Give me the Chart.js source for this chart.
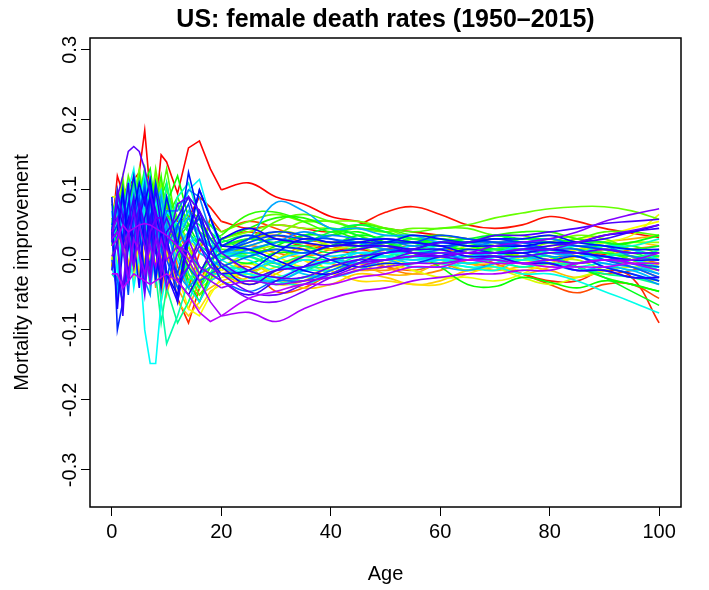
<!DOCTYPE html>
<html>
<head>
<meta charset="utf-8">
<script src="https://cdn.jsdelivr.net/npm/chart.js@4.4.1/dist/chart.umd.min.js"></script>
<style>
  html, body { margin: 0; padding: 0; background: #fff; }
  #wrap { width: 709px; height: 590px; }
</style>
</head>
<body>
<div id="wrap"><canvas id="ratesChart" width="709" height="590"></canvas></div>
<script>
// --- DATA ---
// ages where each curve is read off the picture
const ages = [0, 1, 2, 3, 4, 5, 6, 7, 8, 9, 10, 12, 14, 16, 18, 20,
              25, 30, 35, 40, 45, 50, 55, 60, 65, 70, 75, 80, 85, 90, 95, 100];
const youngCount = 16; // ages 0-20 are jagged, 25-100 smooth
const yTicks = [-0.3, -0.2, -0.1, 0.0, 0.1, 0.2, 0.3];
const xTicks = [0, 20, 40, 60, 80, 100];

// improvement rates in units of 0.001, one row per year (ages 0-20 | 25-100)
const rates1950s = [
  [40,120,95,105,115,125,185,95,70,150,140,95,160,170,130,100, 110,90,80,62,55,45,40,35,30,25,20,15,10,8,5,0],
  [50,95,60,85,45,70,100,55,85,40,75,55,60,90,75,55, 45,50,45,40,50,68,76,65,50,45,50,62,55,45,38,32],
  [-10,70,40,90,60,30,65,-10,45,-30,15,-55,-90,-40,15,30, 40,30,20,15,15,10,5,0,-5,-10,-20,-30,-30,-15,-25,-90],
  [30,60,100,50,80,110,40,90,60,100,50,40,10,-20,0,20, 30,35,25,15,10,15,20,15,10,10,5,0,-10,-20,-15,-5],
  [60,40,80,20,60,90,30,110,70,40,80,20,-40,10,60,40, 55,45,30,25,30,25,15,15,10,-5,-20,-35,-47,-35,-35,-55],
  [40,80,50,100,60,40,120,70,30,90,60,40,20,-10,-30,-20, -10,-45,-40,-20,-5,-10,-15,-5,5,10,5,-5,-5,0,-10,-25],
  [55,30,90,70,40,100,60,20,80,50,70,-10,-40,-50,-30,0, 20,10,5,15,25,20,10,5,10,5,-5,0,10,15,5,-5],
  [35,90,20,60,120,50,80,40,60,-20,30,50,0,30,20,10, -15,0,20,20,10,-10,-20,-15,0,10,5,-5,-5,5,15,20],
  [85,50,70,-10,40,80,20,60,-40,50,10,-30,20,-20,0,-10, -30,-15,5,5,-10,-15,-5,-5,-15,-10,0,15,15,5,0,10],
  [45,20,60,80,30,-20,50,10,40,-60,20,-40,-70,-30,-10,-20, -35,-20,0,-5,-15,-10,5,5,-5,-5,5,10,15,25,30,35]
];
const rates1960s = [
  [0,70,10,40,90,60,-10,70,30,40,-50,10,-20,-50,-40,-30, -20,-35,-30,-10,-5,-20,-20,-5,-5,-15,-10,-15,-25,-15,0,15],
  [50,40,90,30,-30,40,80,-20,50,0,30,-60,-80,-60,-30,-20, -5,-25,-40,-35,-20,-25,-35,-30,-15,-10,-20,-10,5,15,25,20],
  [20,60,80,50,100,-10,40,60,30,70,10,-30,-50,-70,-45,-35, -25,-10,0,-15,-30,-30,-35,-35,-20,-10,-15,-5,5,5,-5,5],
  [45,80,30,-20,60,90,50,0,80,20,-40,30,-10,-20,-30,-10, 5,15,0,-20,-15,0,-5,0,15,15,0,0,15,10,-10,-5],
  [35,30,110,60,20,50,-30,60,20,50,0,-20,-70,-80,-50,-25, -20,-30,-25,-10,-10,-5,10,10,15,20,15,20,30,35,45,55],
  [90,90,40,70,-20,30,100,40,-10,60,20,40,-30,-10,-20,0, 15,5,-10,0,5,-5,-15,-25,-25,-30,-20,0,15,25,35,65],
  [40,-10,70,100,50,20,70,90,40,-10,50,10,20,-30,-10,-15, -5,-20,-30,-20,0,5,15,20,10,-10,-25,-35,-25,-15,-10,-15],
  [50,100,60,20,80,110,20,50,90,30,60,-20,0,-40,-30,-20, -20,0,15,15,20,15,5,5,20,20,5,15,25,15,0,-10],
  [25,70,120,40,60,30,90,110,60,80,20,50,30,10,0,-10, 10,20,15,25,20,5,5,0,-15,-5,5,0,0,-15,-25,-30],
  [45,40,80,110,30,70,100,50,120,60,90,30,0,-30,-20,10, 25,40,35,20,25,15,5,15,25,25,30,25,15,20,25,25]
];
const rates1970s = [
  [30,90,50,70,120,90,60,100,40,110,70,60,20,-20,10,30, 40,50,45,45,35,25,30,35,30,30,30,35,30,15,0,-5],
  [55,60,100,40,90,130,80,50,90,70,40,80,50,60,30,20, 20,35,55,55,55,45,30,25,30,20,15,25,35,30,15,5],
  [-15,80,30,90,60,100,110,70,130,80,100,60,40,20,50,40, 55,65,55,55,45,40,45,45,50,60,67,73,76,76,70,58],
  [60,30,70,120,90,40,80,120,60,90,130,40,-20,-50,-30,20, 30,55,65,55,45,45,40,45,45,35,35,25,30,40,40,35],
  [20,100,80,60,110,70,50,90,100,60,80,40,70,60,20,15, 15,25,25,35,50,45,35,35,30,25,25,15,10,10,0,-15],
  [50,70,40,100,50,90,130,60,80,120,60,90,50,40,30,35, 65,68,55,40,45,40,30,30,25,35,40,40,30,25,20,10],
  [40,50,110,30,80,120,70,100,50,90,110,30,-10,-40,-10,30, 45,60,60,45,30,30,25,20,20,10,5,5,-10,-25,-35,-45],
  [30,80,60,90,40,70,110,130,70,40,80,120,60,30,20,10, 5,20,35,35,40,25,10,-10,-35,-38,-25,-32,-40,-30,-35,-45],
  [45,20,90,60,100,50,80,40,110,60,30,20,-30,-60,-20,10, 10,15,10,20,30,25,25,20,15,15,10,15,20,20,25,35],
  [80,60,20,70,30,90,40,100,60,80,40,30,50,20,10,5, -5,10,10,20,35,30,25,30,25,15,15,5,-10,-25,-45,-65]
];
const rates1980s = [
  [35,90,50,30,80,40,100,60,90,30,70,10,-40,-20,0,20, 30,25,35,45,35,20,25,25,30,35,30,30,25,25,15,20],
  [40,40,80,100,50,110,70,30,60,90,50,80,40,60,50,30, 15,25,25,40,50,40,25,15,25,35,25,25,15,10,5,5],
  [50,80,30,60,110,60,40,80,100,50,70,60,90,70,40,25, 35,20,20,10,20,35,30,30,20,20,30,25,20,15,10,0],
  [30,50,70,40,60,90,120,50,40,70,30,60,40,20,10,5, 5,-5,5,0,15,25,15,20,10,15,20,15,25,20,15,5],
  [45,30,90,50,20,70,130,80,30,60,90,40,60,50,30,10, 10,-5,-15,0,5,15,5,10,0,5,15,10,10,0,-5,-15],
  [-20,-30,40,80,60,30,90,40,-20,-90,-40,-90,-60,-20,0,-10, -25,-35,-25,-20,0,10,0,5,-5,0,0,5,-10,-20,-25,-35],
  [40,70,20,90,50,100,60,30,80,40,110,20,-20,-40,-20,10, 5,-10,-10,-10,5,5,15,10,10,0,-10,0,-5,0,0,15],
  [30,50,80,40,10,60,20,-40,30,-60,-120,-80,-30,-10,-20,-20, -30,-15,0,-5,10,5,15,5,-5,0,-10,-5,-5,5,10,10],
  [45,100,60,30,90,40,70,120,50,80,30,90,110,60,30,-10, -15,-30,-35,-20,-5,10,10,15,5,5,0,10,10,20,20,30],
  [25,60,90,70,40,110,60,30,100,50,20,40,60,30,20,0, -20,-30,-15,-15,0,0,5,-5,-10,-15,0,-5,-10,-5,-15,-10]
];
const rates1990s = [
  [50,80,40,100,130,70,40,90,60,30,70,50,20,40,10,-5, -25,-35,-25,-20,-5,5,0,0,-10,-10,-20,-20,-30,-45,-60,-76],
  [70,-20,60,30,-40,10,-100,-148,-148,-60,-20,10,30,20,0,-10, -20,-25,-10,0,-5,10,5,0,5,0,5,10,5,5,0,0],
  [40,90,30,70,20,80,120,60,100,40,70,50,100,115,60,10, 0,-15,0,-5,10,10,20,15,5,10,10,15,10,0,0,-10],
  [30,40,70,110,60,30,90,50,80,100,40,0,-40,-60,-30,-20, -15,0,10,5,10,5,-5,0,-5,5,15,15,20,15,15,0],
  [55,70,20,60,100,40,80,110,50,20,60,40,70,30,20,10, 10,-5,-20,-25,-15,0,0,5,5,10,20,15,5,5,-5,-20],
  [-10,-40,30,70,40,90,50,20,-30,40,60,20,40,10,0,-10, -25,-30,-15,0,-5,0,-10,-10,-15,-5,5,-5,-15,-10,-15,-30],
  [45,60,100,40,80,50,100,70,30,90,50,30,60,40,20,10, 30,82,70,45,45,35,35,25,25,20,20,10,5,-5,-10,-20],
  [35,-60,40,80,20,60,-30,-50,40,10,50,-20,-40,-20,-10,0, 15,25,40,30,25,15,10,5,10,10,15,5,5,-10,-20,-35],
  [50,90,70,30,60,100,80,110,60,40,70,70,100,90,40,10, 20,30,25,35,30,30,20,25,20,25,25,30,20,20,5,0],
  [40,30,90,60,20,70,40,90,30,60,20,50,10,-10,-20,-30, -45,-30,-30,-15,0,15,10,10,0,5,-5,-5,-15,-15,-25,-25]
];
const rates2000s = [
  [0,-30,-60,40,0,60,110,40,-20,50,0,-40,-10,-30,-20,-10, 5,15,10,20,20,20,10,15,25,25,25,15,15,0,-10,-25],
  [45,80,20,-50,60,90,30,-10,70,20,-30,50,80,20,0,10, 25,35,30,30,20,25,25,35,30,25,20,15,10,5,-5,-10],
  [35,50,90,30,-10,70,100,50,110,70,20,-20,40,60,30,10, 30,40,35,25,30,25,25,20,25,30,25,25,20,15,10,10],
  [90,-100,-60,20,80,40,-20,100,50,-10,30,-60,30,100,60,20, 35,20,15,0,-10,-5,-5,5,15,10,10,0,5,-10,-20,-30],
  [50,60,30,80,120,70,20,60,-30,40,90,20,125,60,0,-20, -15,10,30,25,25,25,35,30,25,30,30,35,25,20,15,15],
  [30,40,100,20,70,110,80,115,60,40,-20,-50,40,100,60,20, 15,0,-15,-20,-5,10,15,25,20,20,20,25,25,35,40,50],
  [45,-70,20,60,30,-40,60,90,20,-40,30,-30,-50,-20,10,30, 45,30,25,20,25,30,25,20,10,10,10,15,10,5,0,0],
  [35,80,50,110,-10,60,90,30,100,50,-20,-60,30,70,20,-10, -35,-15,5,20,20,20,15,15,5,5,-5,-5,-15,-15,-25,-25],
  [-15,30,-80,50,90,20,-40,60,10,-20,40,60,90,40,0,-30, -50,-30,-10,10,15,20,10,5,10,10,15,20,25,30,40,45],
  [25,100,60,-20,30,80,50,-30,70,40,60,20,-10,30,10,-5, -25,-15,-10,0,5,10,15,25,25,35,35,40,45,52,55,58]
];
const rates2010s = [
  [30,90,120,155,162,155,130,95,60,60,20,80,90,70,40,10, -15,-25,-25,-10,0,0,10,5,0,5,5,10,10,15,10,10],
  [5,20,-40,30,70,10,-50,40,60,-20,20,-30,-10,20,-10,-20, -45,-50,-35,-20,-5,0,5,5,10,10,15,15,25,35,42,50],
  [40,60,10,40,-10,50,20,-30,30,0,-40,10,30,-10,-20,-30, -55,-60,-45,-25,-10,0,5,10,10,20,25,30,40,55,65,73],
  [30,40,20,-30,30,10,-20,20,-10,30,0,20,10,-20,-30,-40, -30,-35,-30,-25,-15,-10,-5,-5,0,0,-5,0,-5,0,0,10],
  [20,30,50,40,45,50,52,50,45,40,35,20,0,-30,-60,-80, -75,-88,-70,-55,-45,-40,-30,-25,-20,-20,-15,-15,-5,0,-5,-15],
  [-20,-20,-40,-30,-20,-25,-30,-35,-30,-25,-20,-30,-50,-75,-88,-80, -55,-45,-35,-35,-25,-20,-10,-10,0,-5,-5,-10,-10,-10,-5,-5]
];

const decades = [
  { start: 1950, rows: rates1950s },
  { start: 1960, rows: rates1960s },
  { start: 1970, rows: rates1970s },
  { start: 1980, rows: rates1980s },
  { start: 1990, rows: rates1990s },
  { start: 2000, rows: rates2000s },
  { start: 2010, rows: rates2010s }
];

// --- BUILD DATASETS ---
const curves = [];
decades.forEach(d => {
  d.rows.forEach((row, k) => curves.push({ year: d.start + k, row: row }));
});
const nCurves = curves.length;

// each year is drawn as two pieces: straight segments for the
// single-year ages, a smooth curve from age 20 on
const datasets = [];
curves.forEach((c, i) => {
  const hue = i / (nCurves * 1.25) * 360; // R rainbow: red -> violet
  const colour = 'hsl(' + hue.toFixed(1) + ', 100%, 50%)';
  const pts = c.row.map((v, j) => ({ x: ages[j], y: v / 1000 }));
  const common = { borderColor: colour, borderWidth: 1.6, pointRadius: 0, fill: false, order: nCurves - i };
  datasets.push(Object.assign({ label: c.year + ' young', data: pts.slice(0, youngCount), tension: 0 }, common));
  datasets.push(Object.assign({ label: String(c.year), data: pts.slice(youngCount - 1), tension: 0.4 }, common));
});

const fontFamily = "'Liberation Sans', Arial, Helvetica, sans-serif";

// frame, title and rotated y labels, R style
const rFrame = {
  id: 'rFrame',
  afterDraw(chart) {
    const ctx = chart.ctx;
    const a = chart.chartArea;
    const yScale = chart.scales.y;
    ctx.save();
    ctx.strokeStyle = '#000';
    ctx.lineWidth = 1.5;
    ctx.strokeRect(a.left, a.top, a.right - a.left, a.bottom - a.top);

    ctx.fillStyle = '#000';
    ctx.font = '20px ' + fontFamily;
    ctx.textAlign = 'center';
    ctx.textBaseline = 'alphabetic';
    yTicks.forEach(t => {
      const py = yScale.getPixelForValue(t);
      ctx.save();
      ctx.translate(76, py);
      ctx.rotate(-Math.PI / 2);
      ctx.fillText(t.toFixed(1), 0, 0);
      ctx.restore();
    });

    ctx.font = 'bold 25px ' + fontFamily;
    ctx.textBaseline = 'middle';
    ctx.fillText('US: female death rates (1950–2015)', (a.left + a.right) / 2, 20);
    ctx.restore();
  }
};

new Chart(document.getElementById('ratesChart'), {
  type: 'line',
  data: { datasets: datasets },
  options: {
    responsive: false,
    animation: false,
    layout: { padding: { top: 38, right: 28, left: 0, bottom: 0 } },
    plugins: {
      legend: { display: false },
      tooltip: { enabled: false },
      title: { display: false }
    },
    scales: {
      x: {
        type: 'linear',
        min: -4,
        max: 104,
        afterBuildTicks: s => { s.ticks = xTicks.map(v => ({ value: v })); },
        afterFit: s => { s.height = 83; },
        border: { display: false },
        grid: { drawOnChartArea: false, drawTicks: true, tickLength: 9, color: '#000', lineWidth: 1 },
        ticks: { color: '#000', font: { size: 20, family: fontFamily }, padding: 4, maxRotation: 0 },
        title: { display: true, text: 'Age', color: '#000', font: { size: 20, family: fontFamily }, padding: { top: 0, bottom: 4 } }
      },
      y: {
        type: 'linear',
        min: -0.353,
        max: 0.317,
        afterBuildTicks: s => { s.ticks = yTicks.map(v => ({ value: v })); },
        afterFit: s => { s.width = 90; },
        border: { display: false },
        grid: { drawOnChartArea: false, drawTicks: true, tickLength: 9, color: '#000', lineWidth: 1 },
        ticks: { display: false },
        title: { display: true, text: 'Mortality rate improvement', color: '#000', font: { size: 20, family: fontFamily }, padding: { top: 10, bottom: 10 } }
      }
    }
  },
  plugins: [rFrame]
});
</script>
</body>
</html>
